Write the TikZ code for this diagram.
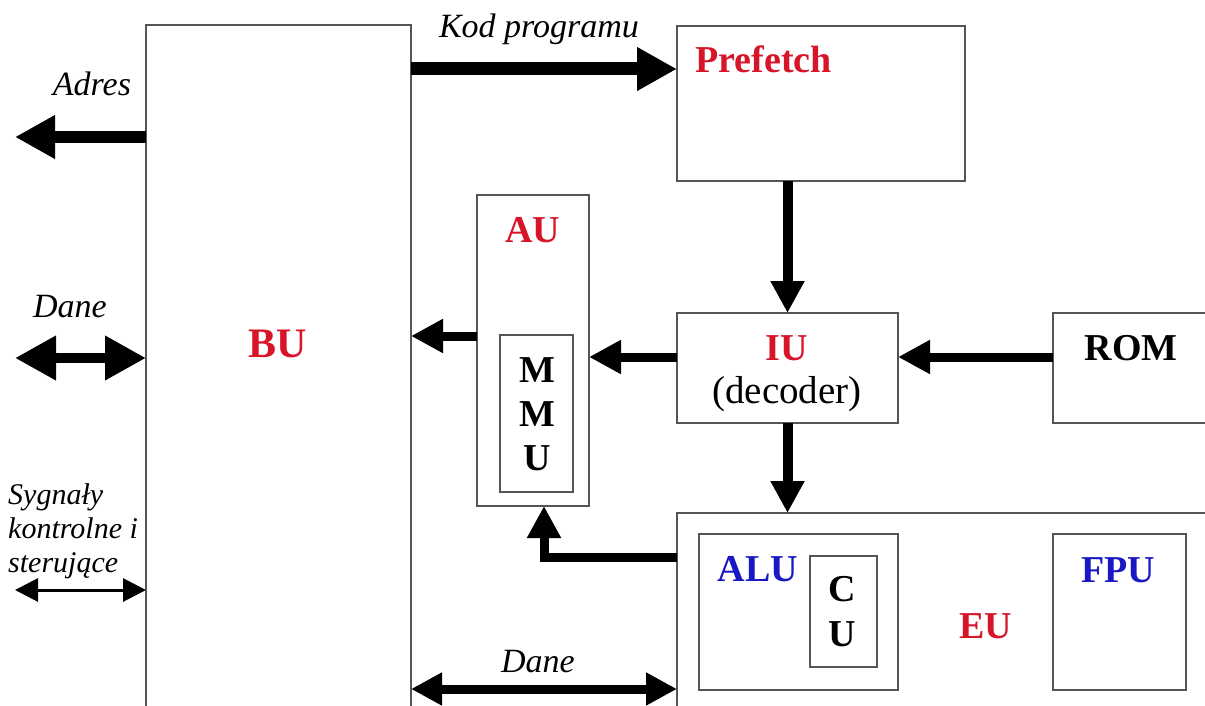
\documentclass[tikz,border=0pt]{standalone}
\usepackage{fontspec}
\setmainfont{Liberation Serif}
\usetikzlibrary{arrows.meta}
\definecolor{ured}{RGB}{215,20,40}
\definecolor{ublue}{RGB}{25,25,195}
\definecolor{boxgray}{RGB}{85,85,85}
\begin{document}
\begin{tikzpicture}[x=1pt,y=-1pt,
  box/.style={draw=boxgray, line width=2pt, inner sep=0pt, outer sep=0pt, anchor=north west},
  lbl/.style={inner sep=0pt, anchor=base},
  bold/.style={lbl, font=\fontsize{38}{40}\selectfont\bfseries},
  ital/.style={lbl, font=\fontsize{34}{36}\selectfont\itshape},
  fat/.style={line width=12pt, -{Triangle[length=40pt,width=41pt]}},
  fatboth/.style={line width=10pt, {Triangle[length=41pt,width=42pt]}-{Triangle[length=41pt,width=42pt]}},
  mid/.style={line width=9pt, line join=miter, -{Triangle[length=32pt,width=32pt]}},
  midboth/.style={line width=9pt, {Triangle[length=31pt,width=31pt]}-{Triangle[length=31pt,width=31pt]}},
  thinboth/.style={line width=3pt, {Triangle[length=23pt,width=23pt]}-{Triangle[length=23pt,width=23pt]}}
]
\useasboundingbox (0,0) rectangle (1205,706);
\clip (0,0) rectangle (1205,706);

% boxes
\node[box, minimum width=265pt, minimum height=740pt] (bu) at (146,25) {};
\node[box, minimum width=288pt, minimum height=155pt] (prefetch) at (677,26) {};
\node[box, minimum width=112pt, minimum height=311pt] (au) at (477,195) {};
\node[box, minimum width=73pt, minimum height=157pt] (mmu) at (500,335) {};
\node[box, minimum width=221pt, minimum height=110pt] (iu) at (677,313) {};
\node[box, minimum width=210pt, minimum height=110pt] (rom) at (1053,313) {};
\node[box, minimum width=590pt, minimum height=250pt] (eu) at (677,513) {};
\node[box, minimum width=199pt, minimum height=156pt] (alu) at (699,534) {};
\node[box, minimum width=67pt, minimum height=111pt] (cu) at (810,556) {};
\node[box, minimum width=133pt, minimum height=156pt] (fpu) at (1053,534) {};

% labels
\node[bold, text=ured, font=\fontsize{42}{44}\selectfont\bfseries] (bulbl) at (278,357) {BU};
\node[bold, text=ured, anchor=base west] (preflbl) at (695,73) {Prefetch};
\node[bold, text=ured] (aulbl) at (533,242) {AU};
\node[bold, font=\fontsize{38}{44}\selectfont\bfseries, align=center, anchor=north] (mmulbl) at (537,357) {M\\M\\U};
\node[bold, text=ured] (iulbl) at (787,360) {IU};
\node[lbl, font=\fontsize{39}{41}\selectfont] (declbl) at (787,403) {(decoder)};
\node[bold] (romlbl) at (1131,360) {ROM};
\node[bold, text=ublue] (alulbl) at (758,581) {ALU};
\node[bold, font=\fontsize{38}{45}\selectfont\bfseries, align=center, anchor=north] (culbl) at (842,576) {C\\U};
\node[bold, text=ured] (eulbl) at (986,638) {EU};
\node[bold, text=ublue] (fpulbl) at (1118,582) {FPU};

\node[ital] (adreslbl) at (92,96) {Adres};
\node[ital] (kodlbl) at (539,38) {Kod programu};
\node[ital] (dane1lbl) at (70,317) {Dane};
\node[ital] (dane2lbl) at (538,672) {Dane};
\node[inner sep=0pt, anchor=north west, align=left, font=\fontsize{30}{34}\selectfont\itshape] (syglbl) at (8,483) {Sygnały\\kontrolne i\\sterujące};

% connectors
\coordinate (adrestip) at (15,137);
\coordinate (danetip) at (15,358);
\coordinate (ctltip) at (15,590);
\draw[fat] (bu.west |- adrestip) -- (adrestip);
\draw[fat, line width=13pt] (bu.east |- 0,69) -- (prefetch.west |- 0,69);
\draw[fatboth] (danetip) -- (bu.west |- danetip);
\draw[thinboth] (ctltip) -- (bu.west |- ctltip);
\draw[mid, line width=10pt] (prefetch.south -| iu.north) -- (iu.north);
\draw[mid, line width=10pt] (iu.south) -- (iu.south |- eu.north);
\draw[mid] (rom.west |- 0,357) -- (iu.east |- 0,357);
\draw[mid] (iu.west |- 0,357) -- (au.east |- 0,357);
\draw[mid] (au.west |- 0,336) -- (bu.east |- 0,336);
\draw[mid] (eu.west |- 0,557) -| (au.south -| 544,0);
\draw[midboth] (bu.east |- 0,689) -- (eu.west |- 0,689);
\end{tikzpicture}
\end{document}
